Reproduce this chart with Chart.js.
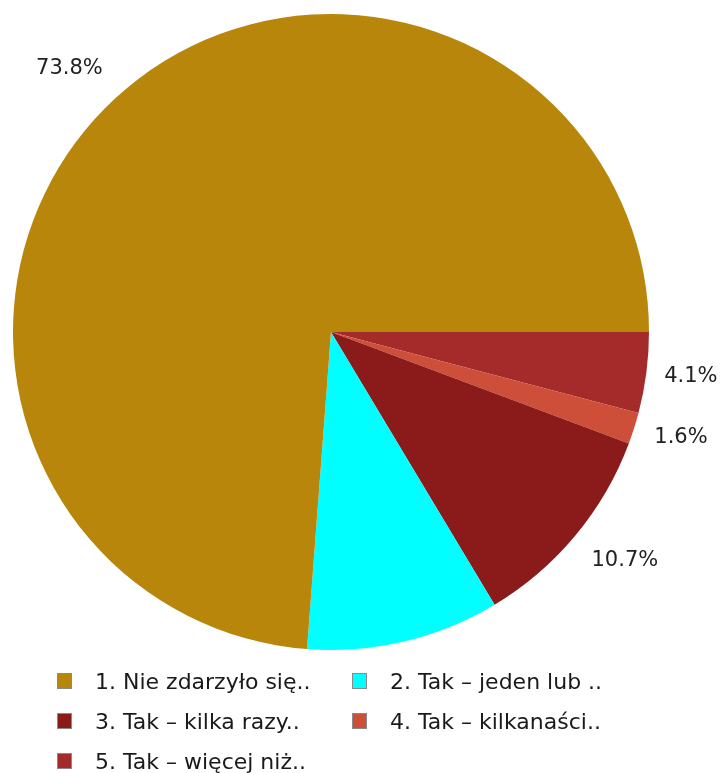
<!DOCTYPE html>
<html>
<head>
<meta charset="utf-8">
<script src="https://cdn.jsdelivr.net/npm/chart.js@4"></script>
<style>
  html, body { margin: 0; padding: 0; background: #ffffff; }
  #wrap { position: relative; width: 721px; height: 773px; }
  #legend { position: absolute; left: 57px; top: 661px; width: 660px;
    display: grid; grid-template-columns: 295px 340px;
    font-family: 'DejaVu Sans', sans-serif; font-size: 22px; color: #1a1a1a; }
  #legend .item { display: flex; align-items: center; height: 40px; white-space: nowrap; }
  #legend .box { width: 15px; height: 16px; border: 1px solid #8a8a8a; margin-right: 23px; box-sizing: border-box; }
</style>
</head>
<body>
<div id="wrap">
  <canvas id="pie" width="721" height="773"></canvas>
  <div id="legend"></div>
</div>
<script>
// legend order, as in the survey
var categories = ['1. Nie zdarzyło się..', '2. Tak – jeden lub ..', '3. Tak – kilka razy..', '4. Tak – kilkanaści..', '5. Tak – więcej niż..'];
var percents = [73.8, 9.8, 10.7, 1.6, 4.1];
var showLabel = [true, false, true, true, true];
var colors = ['#b8860b', '#00ffff', '#8b1a1a', '#cd4f39', '#a52a2a'];

// slices run counter-clockwise from 3 o'clock in the picture,
// Chart.js goes clockwise, so feed them in reverse
var order = [4, 3, 2, 1, 0];

var pctLabels = {
    id: 'pctLabels',
    afterDatasetsDraw: function (chart) {
        var ctx = chart.ctx;
        var meta = chart.getDatasetMeta(0);
        ctx.save();
        ctx.font = '21px "DejaVu Sans", sans-serif';
        ctx.fillStyle = '#222222';
        ctx.textAlign = 'center';
        ctx.textBaseline = 'middle';
        meta.data.forEach(function (arc, i) {
            var k = order[i];
            if (!showLabel[k]) return;
            var txt = percents[k].toFixed(1) + '%';
            var w = ctx.measureText(txt).width, h = 16;
            var mid = (arc.startAngle + arc.endAngle) / 2;
            var c = Math.cos(mid), s = Math.sin(mid);
            // text box pushed outward from the rim
            var r = arc.outerRadius + 15 + 25 * Math.abs(s);
            ctx.fillText(txt, arc.x + c * r + c * w / 2, arc.y + s * r + s * h / 2);
        });
        ctx.restore();
    }
};

var ctx = document.getElementById('pie').getContext('2d');
var pie = new Chart(ctx, {
    type: 'pie',
    data: {
        labels: order.map(function (k) { return categories[k]; }),
        datasets: [{
            data: order.map(function (k) { return percents[k]; }),
            backgroundColor: order.map(function (k) { return colors[k]; }),
            borderWidth: 0
        }]
    },
    options: {
        responsive: false,
        animation: false,
        rotation: 90,
        layout: { padding: { left: 13, right: 72, top: 14, bottom: 123 } },
        plugins: {
            legend: { display: false },
            tooltip: { enabled: false }
        }
    },
    plugins: [pctLabels]
});

var legend = document.getElementById('legend');
categories.forEach(function (name, k) {
    var item = document.createElement('div');
    item.className = 'item';
    var box = document.createElement('span');
    box.className = 'box';
    box.style.background = colors[k];
    var txt = document.createElement('span');
    txt.textContent = name;
    item.appendChild(box);
    item.appendChild(txt);
    legend.appendChild(item);
});
</script>
</body>
</html>
